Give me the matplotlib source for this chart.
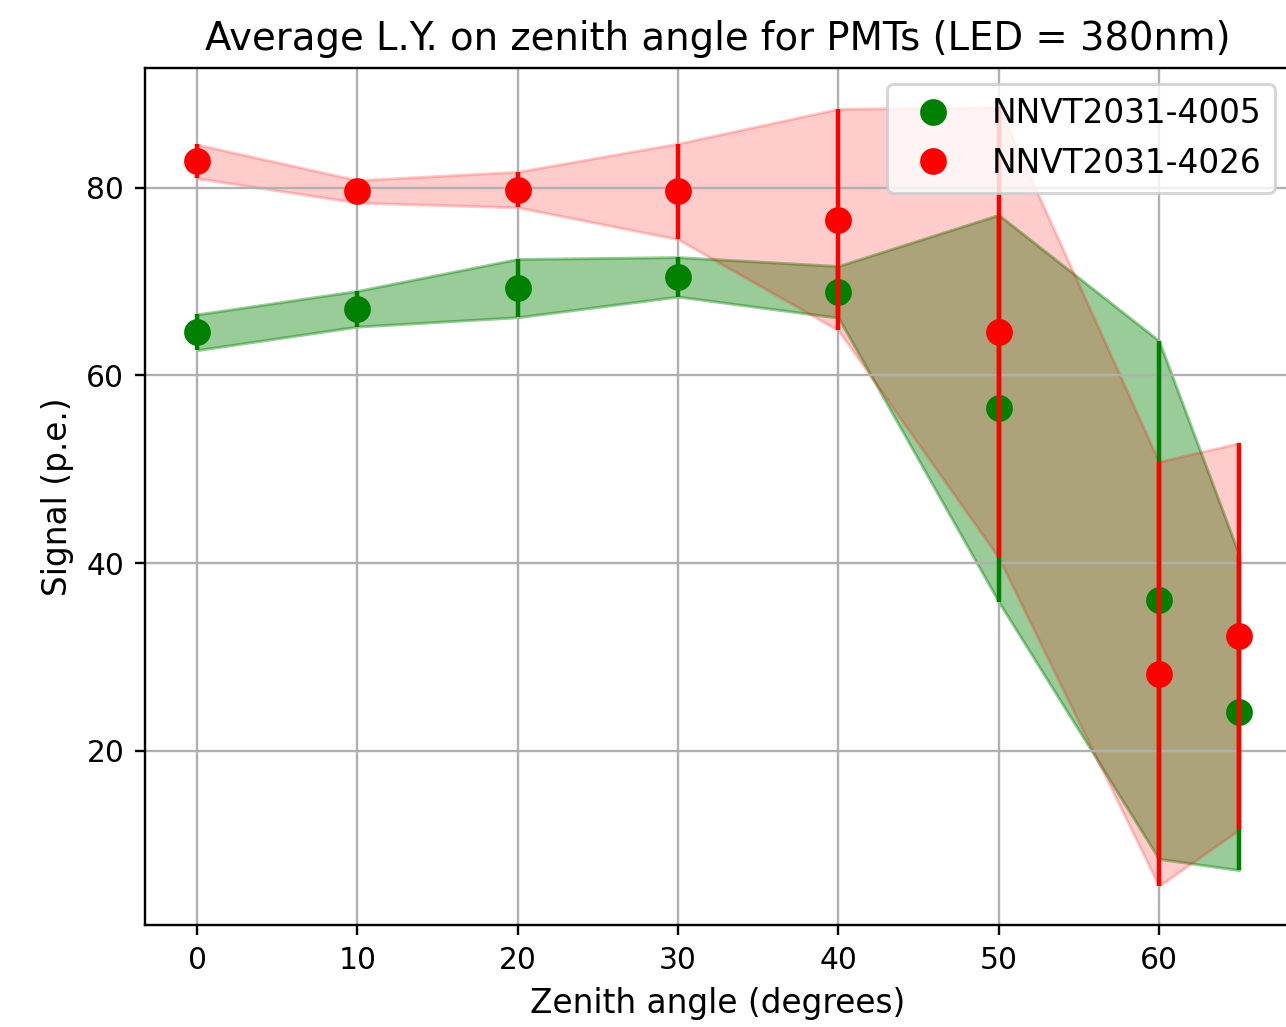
import matplotlib
matplotlib.use("Agg")
import matplotlib.pyplot as plt
import numpy as np

DPI = 214
FIG_SIZE = (1286 / DPI, 1027 / DPI)
LABEL_SIZE = 11

angles = [0, 10, 20, 30, 40, 50, 60, 65]

# NNVT2031-4005
green_mean = [64.6, 67.1, 69.3, 70.5, 68.9, 56.5, 36.1, 24.1]
green_err = [1.9, 1.9, 3.1, 2.1, 2.75, 20.6, 27.6, 16.8]

# NNVT2031-4026
red_mean = [82.8, 79.6, 79.8, 79.6, 76.6, 64.6, 28.2, 32.2]
red_err = [1.8, 1.2, 1.9, 5.1, 11.8, 24.0, 22.6, 20.6]

series = [
    ("NNVT2031-4005", green_mean, green_err, "green", 0.4),
    ("NNVT2031-4026", red_mean, red_err, "red", 0.2),
]

fig = plt.figure(figsize=FIG_SIZE, dpi=DPI)
ax = fig.add_axes([0.1128, 0.0993, 0.8912, 0.8345])

for name, mean, err, c, a in series:
    mean = np.array(mean)
    err = np.array(err)
    ax.errorbar(angles, mean, yerr=err, fmt="none", ecolor=c, elinewidth=1.5)
    ax.plot(angles, mean, "o", color=c, markersize=8, label=name)
    ax.fill_between(angles, mean - err, mean + err, color=c, alpha=a)

ax.set_title("Average L.Y. on zenith angle for PMTs (LED = 380nm)", fontsize=13)
ax.set_xlabel("Zenith angle (degrees)", fontsize=LABEL_SIZE)
ax.set_ylabel("Signal (p.e.)", fontsize=LABEL_SIZE)
ax.set_xticks([0, 10, 20, 30, 40, 50, 60])
ax.grid()
# the picture is cut off just past the right edge of the axes
ax.spines["right"].set_visible(False)
ax.legend(loc="upper right", fontsize=LABEL_SIZE)

fig.savefig("out.png", dpi=DPI)
